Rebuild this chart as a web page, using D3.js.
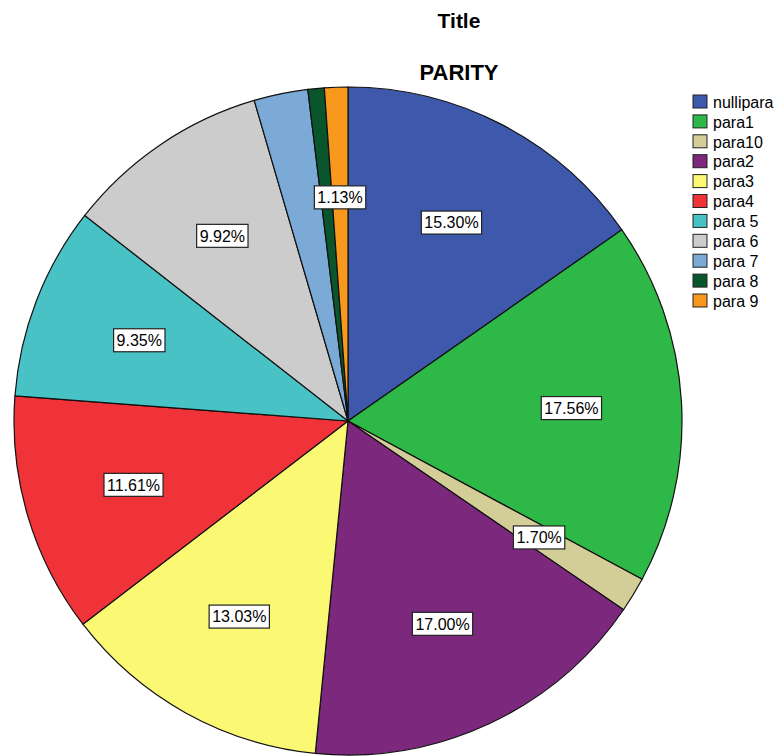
<!DOCTYPE html>
<html>
<head>
<meta charset="utf-8">
<script src="https://cdn.jsdelivr.net/npm/d3@7"></script>
<style>
  body { margin: 0; background: #fff; }
  text { font-family: Arial, "Liberation Sans", sans-serif; }
</style>
</head>
<body>
<div id="chart-area"></div>
<script>
// parity categories, in slice order (clockwise from 12 o'clock)
var categories = ["nullipara", "para1", "para10", "para2", "para3", "para4", "para 5", "para 6", "para 7", "para 8", "para 9"]
var percents = [15.30, 17.56, 1.70, 17.00, 13.03, 11.61, 9.35, 9.92, 2.61, 0.79, 1.13]
var colors = ["#3e58ac", "#2eb848", "#d3ce97", "#7c287d", "#fbf873", "#ef3338", "#48c2c5", "#cccccc", "#7aaad5", "#0a562c", "#f8981d"]
// only some slices carry a label in the original
var labelled = ["nullipara", "para1", "para10", "para2", "para3", "para4", "para 5", "para 6", "para 9"]

var svgWidth = 775, svgHeight = 756
var cx = 348, cy = 421, radius = 334

var svg = d3.select("#chart-area").append("svg")
    .attr("width", svgWidth)
    .attr("height", svgHeight)

svg.append("text")
    .attr("x", 459).attr("y", 28)
    .attr("text-anchor", "middle")
    .attr("font-size", "21px")
    .attr("font-weight", "bold")
    .text("Title")

svg.append("text")
    .attr("x", 459).attr("y", 80)
    .attr("text-anchor", "middle")
    .attr("font-size", "22px")
    .attr("font-weight", "bold")
    .text("PARITY")

var data = categories.map((c, i) => ({name: c, value: percents[i], color: colors[i]}))

var pie = d3.pie()
    .sort(null)
    .value(d => d.value)

var arc = d3.arc().innerRadius(0).outerRadius(radius)
var labelArc = d3.arc().innerRadius(radius * 0.67).outerRadius(radius * 0.67)

var chartGroup = svg.append("g")
    .attr("transform", `translate(${cx},${cy})`)

var arcs = pie(data)

chartGroup.selectAll(".slice")
    .data(arcs)
    .enter().append("path")
    .attr("class", "slice")
    .attr("d", arc)
    .attr("fill", d => d.data.color)
    .attr("stroke", "#111")
    .attr("stroke-width", 1.2)

var fmt = d3.format(".2f")

var labels = chartGroup.selectAll(".lbl")
    .data(arcs.filter(d => labelled.indexOf(d.data.name) >= 0))
    .enter().append("g")
    .attr("class", "lbl")
    .attr("transform", d => {
        var c = labelArc.centroid(d)
        return `translate(${c[0]},${c[1]})`
    })

labels.append("rect")
    .attr("x", -30).attr("y", -11.5)
    .attr("width", 60).attr("height", 23)
    .attr("fill", "#fff")
    .attr("stroke", "#222")
    .attr("stroke-width", 1.2)

labels.append("text")
    .attr("text-anchor", "middle")
    .attr("dy", "0.36em")
    .attr("font-size", "16px")
    .text(d => fmt(d.data.value) + "%")

// size label boxes to their text
labels.each(function() {
    var g = d3.select(this)
    var w = g.select("text").node().getComputedTextLength() + 6
    g.select("rect").attr("x", -w / 2).attr("width", w)
})

// legend
var legend = svg.append("g")
    .attr("transform", "translate(693,95)")

var rowH = 19.9
var items = legend.selectAll(".leg")
    .data(data)
    .enter().append("g")
    .attr("class", "leg")
    .attr("transform", (d, i) => `translate(0,${i * rowH})`)

items.append("rect")
    .attr("width", 14).attr("height", 13)
    .attr("fill", d => d.color)
    .attr("stroke", "#222")
    .attr("stroke-width", 1)

items.append("text")
    .attr("x", 20).attr("y", 7)
    .attr("dy", "0.36em")
    .attr("font-size", "16px")
    .text(d => d.name)
</script>
</body>
</html>
